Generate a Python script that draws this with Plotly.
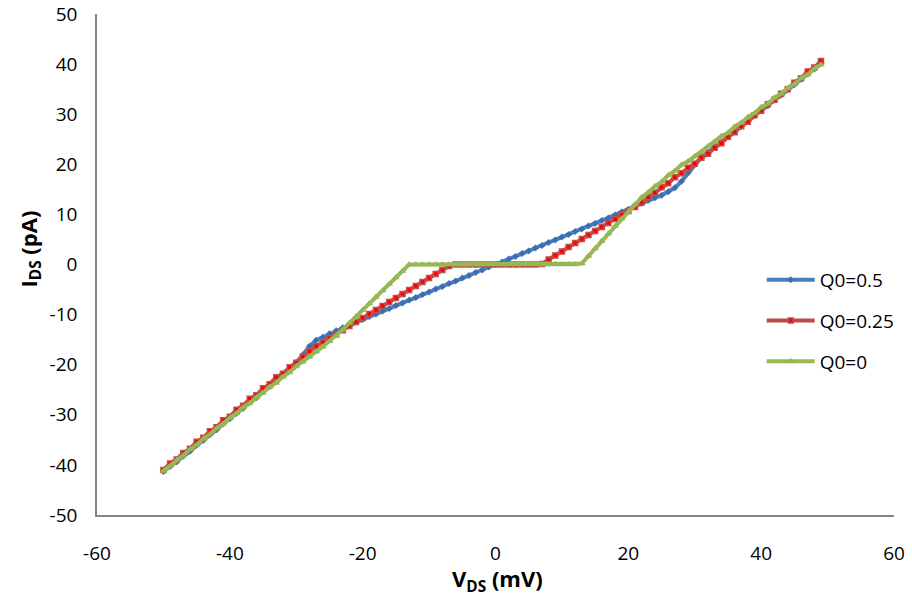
import plotly.graph_objects as go

v_ds = [-50, -49, -48, -47, -46, -45, -44, -43, -42, -41,
        -40, -39, -38, -37, -36, -35, -34, -33, -32, -31,
        -30, -29, -28, -27, -26, -25, -24, -23, -22, -21,
        -20, -19, -18, -17, -16, -15, -14, -13, -12, -11,
        -10, -9, -8, -7, -6, -5, -4, -3, -2, -1,
        0, 1, 2, 3, 4, 5, 6, 7, 8, 9,
        10, 11, 12, 13, 14, 15, 16, 17, 18, 19,
        20, 21, 22, 23, 24, 25, 26, 27, 28, 29,
        30, 31, 32, 33, 34, 35, 36, 37, 38, 39,
        40, 41, 42, 43, 44, 45, 46, 47, 48, 49]

i_q05 = [-41.3, -40.3, -39.4, -38.2, -37.3, -36.1, -35.1, -34.0, -33.0, -31.8,
         -30.8, -29.7, -28.7, -27.5, -26.6, -25.4, -24.4, -23.3, -22.2, -20.9,
         -19.6, -18.0, -16.3, -15.1, -14.5, -13.8, -13.2, -12.6, -12.1, -11.5,
         -11.0, -10.4, -9.9, -9.3, -8.8, -8.2, -7.7, -7.1, -6.6, -6.0,
         -5.5, -4.9, -4.4, -3.8, -3.3, -2.7, -2.2, -1.6, -1.1, -0.5,
         0.0, 0.5, 1.1, 1.6, 2.2, 2.7, 3.3, 3.8, 4.4, 4.9,
         5.5, 6.0, 6.6, 7.1, 7.7, 8.2, 8.8, 9.3, 9.9, 10.5,
         11.0, 11.6, 12.2, 12.8, 13.3, 13.8, 14.5, 15.3, 16.6, 18.3,
         20.0, 21.4, 22.4, 23.4, 24.4, 25.5, 26.5, 27.6, 28.6, 29.7,
         30.7, 31.7, 32.8, 33.8, 34.9, 35.9, 37.0, 38.0, 39.0, 40.1]

i_q025 = [-41.0, -39.7, -38.9, -37.6, -36.8, -35.4, -34.6, -33.3, -32.5, -31.1,
          -30.4, -29.0, -28.2, -26.8, -26.1, -24.7, -23.9, -22.5, -21.8, -20.5,
          -19.6, -18.4, -17.3, -16.3, -15.5, -14.7, -13.9, -13.1, -12.3, -11.5,
          -10.7, -9.9, -9.1, -8.3, -7.5, -6.7, -5.9, -5.1, -4.3, -3.5,
          -2.7, -1.9, -1.1, -0.3, 0.0, 0.0, 0.0, 0.0, 0.0, 0.0,
          0.0, 0.0, 0.0, 0.0, 0.0, 0.0, 0.0, 0.1, 1.0, 1.8,
          2.6, 3.5, 4.3, 5.1, 5.9, 6.7, 7.5, 8.3, 9.1, 9.9,
          10.7, 11.5, 12.4, 13.4, 14.3, 15.4, 16.2, 17.4, 18.2, 19.3,
          20.1, 21.3, 22.1, 23.3, 24.2, 25.5, 26.4, 27.6, 28.5, 29.8,
          30.7, 32.0, 32.9, 34.1, 35.0, 36.3, 37.2, 38.5, 39.3, 40.6]

i_q0 = [-41.2, -40.2, -39.0, -38.1, -36.9, -36.0, -34.8, -33.9, -32.7, -31.8,
        -30.6, -29.7, -28.5, -27.7, -26.5, -25.6, -24.4, -23.6, -22.4, -21.5,
        -20.3, -19.4, -18.4, -17.4, -16.4, -15.3, -14.2, -13.0, -11.7, -10.4,
        -9.1, -7.8, -6.5, -5.2, -3.9, -2.6, -1.3, 0.0, 0.0, 0.0,
        0.0, 0.0, 0.0, 0.0, 0.0, 0.0, 0.0, 0.0, 0.0, 0.0,
        0.0, 0.0, 0.0, 0.0, 0.0, 0.0, 0.0, 0.0, 0.0, 0.0,
        0.0, 0.0, 0.0, 0.2, 1.7, 3.2, 4.7, 6.2, 7.7, 9.2,
        10.6, 12.0, 13.4, 14.4, 15.6, 16.5, 17.8, 18.7, 19.9, 20.6,
        21.6, 22.4, 23.6, 24.4, 25.6, 26.3, 27.5, 28.3, 29.4, 30.2,
        31.4, 32.1, 33.3, 34.1, 35.2, 36.0, 37.2, 37.9, 39.1, 39.9]

series_names = ["Q0=0.5", "Q0=0.25", "Q0=0"]
x_ticks = [-60, -40, -20, 0, 20, 40, 60]
y_ticks = [-50, -40, -30, -20, -10, 0, 10, 20, 30, 40, 50]

FONT = "Open Sans"

fig = go.Figure()
fig.add_trace(go.Scatter(
    x=v_ds, y=i_q05, name=series_names[0], mode="lines+markers",
    line=dict(color="#4A7EBB", width=4),
    marker=dict(symbol="diamond", size=5, color="#3C6DB0",
                line=dict(color="#4A7EBB", width=0.5)),
    legendgroup="a"))
fig.add_trace(go.Scatter(
    x=v_ds, y=i_q025, name=series_names[1], mode="lines+markers",
    line=dict(color="#BE4B48", width=4),
    marker=dict(symbol="square", size=5, color="#FF0000",
                line=dict(color="#C0504D", width=1.5)),
    legendgroup="b"))
fig.add_trace(go.Scatter(
    x=v_ds, y=i_q0, name=series_names[2], mode="lines+markers",
    line=dict(color="#98B954", width=4),
    marker=dict(symbol="triangle-up", size=6, color="#98B954",
                line=dict(color="#8FB04C", width=0.5)),
    legendgroup="c"))

fig.update_layout(
    width=912, height=605,
    margin=dict(l=97, r=14, t=14, b=90),
    paper_bgcolor="white", plot_bgcolor="white",
    font=dict(family=FONT, size=19, color="#000000"),
    showlegend=True,
    legend=dict(x=0.834, y=0.507, xanchor="left", yanchor="top",
                font=dict(family=FONT, size=19, color="#000000"),
                bgcolor="rgba(0,0,0,0)", tracegroupgap=13,
                itemwidth=48),
    xaxis=dict(range=[-60, 60], tickvals=x_ticks, ticktext=[str(v) for v in x_ticks],
               showgrid=False, zeroline=False, showline=True, automargin=False,
               linecolor="#868686", linewidth=1.5, ticks="",
               ticklabelstandoff=20,
               tickfont=dict(family=FONT, size=19)),
    yaxis=dict(range=[-50, 50], tickvals=y_ticks, ticktext=[str(v) for v in y_ticks],
               showgrid=False, zeroline=False, showline=True, automargin=False,
               linecolor="#868686", linewidth=1.5, ticks="",
               ticklabelstandoff=14,
               tickfont=dict(family=FONT, size=19)),
    annotations=[
        dict(text="<b>V<sub>DS</sub> (mV)</b>", xref="paper", yref="paper",
             x=0.502, y=-0.13, xanchor="center", yanchor="middle",
             showarrow=False, font=dict(family=FONT, size=22)),
        dict(text="<b>I<sub>DS</sub> (pA)</b>", xref="paper", yref="paper",
             x=-0.084, y=0.53, xanchor="center", yanchor="middle",
             textangle=-90, showarrow=False, font=dict(family=FONT, size=22)),
    ],
)

fig.write_html("out.html")
